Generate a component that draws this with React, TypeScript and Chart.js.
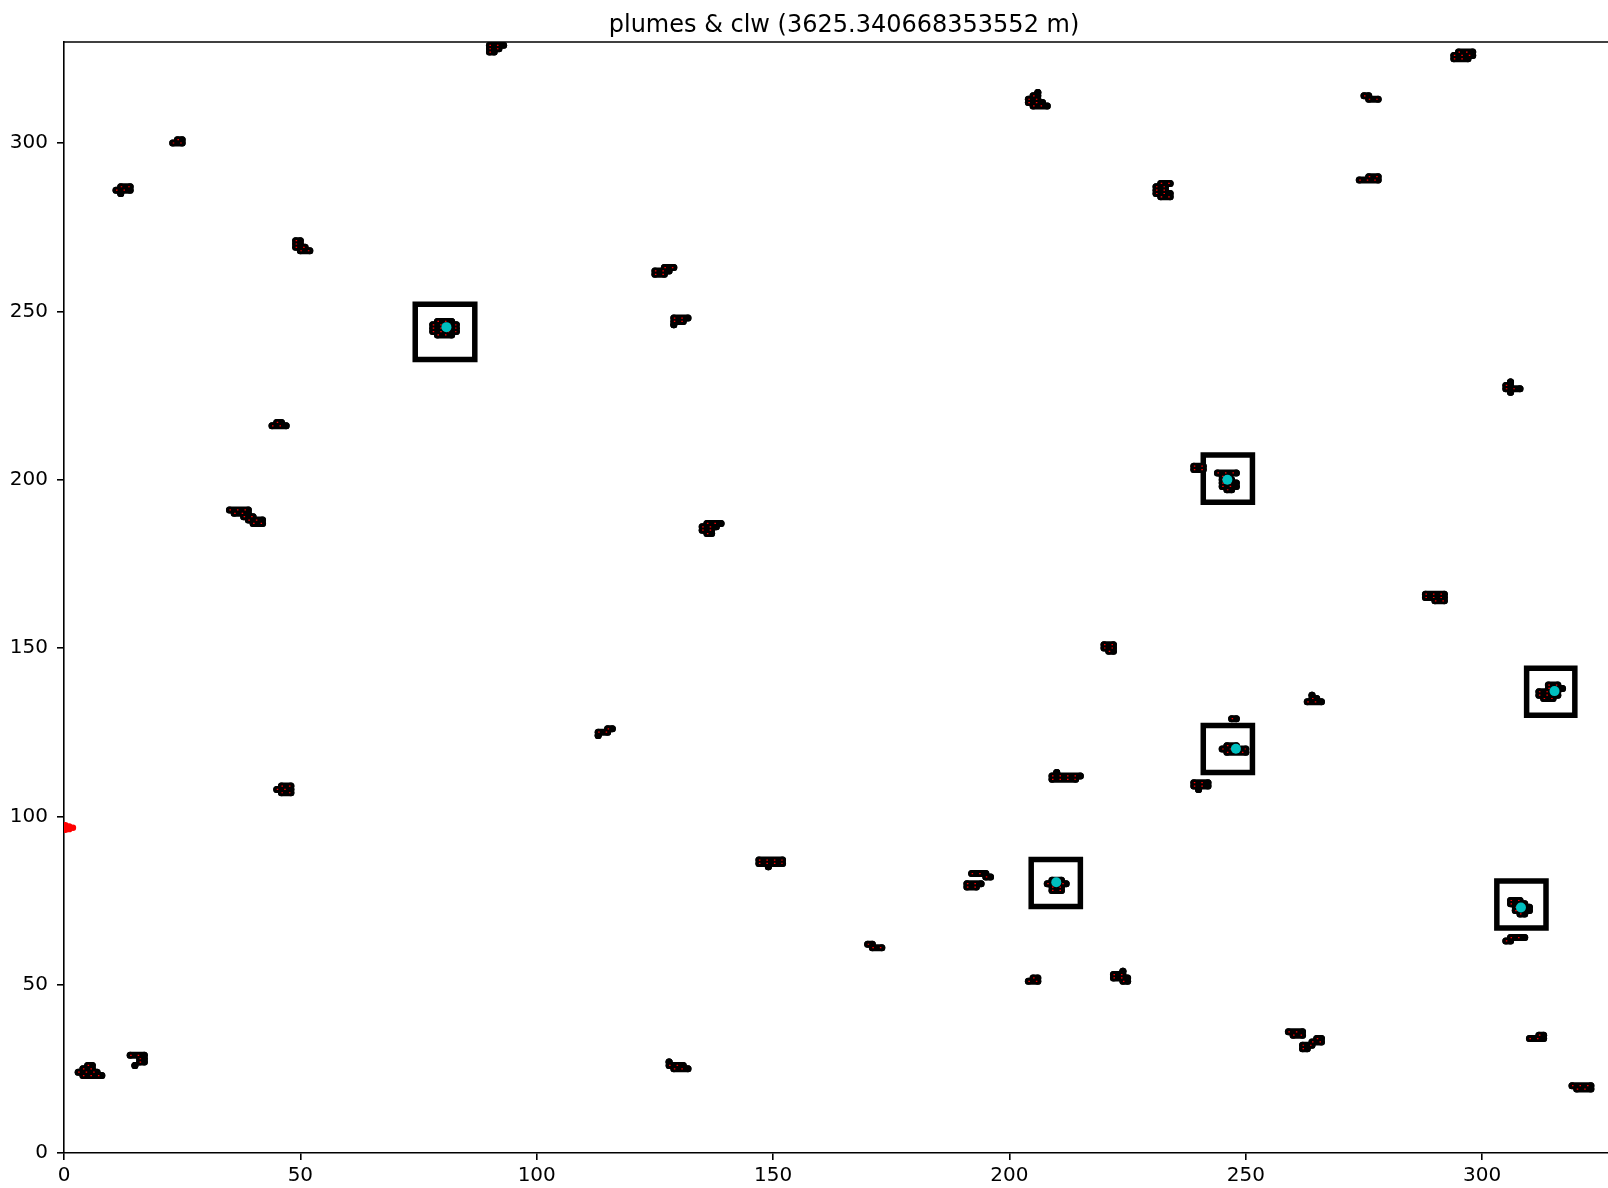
import React, { useEffect, useRef } from "react";
import { Chart, registerables } from "chart.js";

Chart.register(...registerables);

const TITLE = "plumes & clw (3625.340668353552 m)";
const xTicks = [0, 50, 100, 150, 200, 250, 300];
const yTicks = [0, 50, 100, 150, 200, 250, 300];
const X_MAX = 330;
const Y_MAX = 330;

// plume cells, one entry per horizontal run: [y, xStart, xEnd]
const plumeRows: [number, number, number][] = [
  [327, 90, 91], [328, 90, 92], [329, 90, 93],
  [300, 23, 25], [301, 24, 25],
  [287, 12, 14], [286, 11, 14], [285, 12, 12],
  [271, 49, 50], [270, 49, 50], [269, 49, 51], [268, 50, 52],
  [247, 79, 82], [246, 78, 83], [245, 78, 83], [244, 78, 83], [243, 79, 82],
  [263, 127, 129], [262, 125, 128], [261, 125, 127],
  [248, 129, 132], [247, 129, 131], [246, 129, 129],
  [217, 45, 46], [216, 44, 47],
  [191, 35, 39], [190, 36, 39], [189, 38, 40], [188, 39, 42], [187, 40, 42],
  [187, 136, 139], [186, 135, 138], [185, 135, 137], [184, 136, 137],
  [109, 46, 48], [108, 45, 48], [107, 46, 48],
  [126, 115, 116], [125, 113, 115], [124, 113, 113],
  [87, 147, 152], [86, 147, 152], [85, 149, 149],
  [62, 170, 171], [61, 171, 173],
  [26, 5, 6], [25, 4, 6], [24, 3, 7], [23, 4, 8],
  [29, 14, 17], [28, 16, 17], [27, 16, 17], [26, 15, 15],
  [27, 128, 128], [26, 128, 131], [25, 129, 132],
  [315, 206, 206], [314, 205, 206], [313, 204, 206], [312, 204, 207], [311, 205, 208],
  [288, 232, 234], [287, 231, 233], [286, 231, 233], [285, 231, 234], [284, 232, 234],
  [314, 275, 276], [313, 276, 278],
  [290, 276, 278], [289, 274, 278],
  [327, 295, 298], [326, 294, 298], [325, 294, 297],
  [229, 306, 306], [228, 305, 306], [227, 305, 308], [226, 306, 306],
  [202, 244, 248], [201, 245, 246], [200, 245, 247], [199, 245, 248], [198, 245, 248], [197, 246, 247],
  [204, 239, 241], [203, 239, 241],
  [166, 288, 292], [165, 288, 292], [164, 290, 292],
  [151, 220, 222], [150, 220, 222], [149, 221, 222],
  [139, 314, 316], [138, 314, 317], [137, 312, 316], [136, 312, 316], [135, 313, 315],
  [136, 264, 264], [135, 264, 265], [134, 263, 266],
  [121, 246, 248], [120, 245, 250], [119, 246, 250],
  [129, 247, 248],
  [113, 210, 210], [112, 209, 215], [111, 209, 214],
  [110, 239, 242], [109, 239, 242], [108, 240, 240],
  [83, 192, 195], [82, 195, 196], [80, 191, 194], [79, 191, 193],
  [81, 209, 211], [80, 208, 212], [79, 209, 211], [78, 209, 211],
  [75, 306, 308], [74, 306, 309], [73, 307, 310], [72, 307, 310], [71, 308, 309],
  [64, 306, 309], [63, 305, 306],
  [52, 205, 206], [51, 204, 206],
  [54, 224, 224], [53, 222, 224], [52, 222, 225], [51, 224, 225],
  [36, 259, 262], [35, 260, 262],
  [34, 265, 266], [33, 264, 266], [32, 262, 264], [31, 262, 263],
  [35, 312, 313], [34, 310, 313],
  [20, 319, 323], [19, 320, 323],
];

// tracked plume centres (cyan)
const plumeCenters: [number, number][] = [
  [80.9, 245.3],
  [246.1, 200.0],
  [315.3, 137.2],
  [247.9, 120.1],
  [209.9, 80.4],
  [308.2, 72.9],
];

// selection boxes: [centerX, centerY, halfWidth, halfHeight]
const boxes: [number, number, number, number][] = [
  [80.6, 243.9, 6.3, 8.2],
  [246.2, 200.3, 5.2, 7.0],
  [314.5, 137.0, 5.1, 6.95],
  [246.2, 120.0, 5.2, 7.0],
  [209.8, 80.2, 5.2, 6.95],
  [308.3, 73.8, 5.2, 7.0],
];

// red cloud-water patch at the left edge
const redPatch: [number, number][] = [
  [0.3, 97.4], [0.3, 96.0], [1.1, 97.0], [1.1, 96.2], [1.9, 96.6],
];

const CANVAS_W = 1640;
const CANVAS_H = 1188;
const AREA_LEFT = 64;
const AREA_RIGHT = 1624;
const AREA_TOP = 42;
const AREA_BOTTOM = 1153;

export default function App() {
  const ref = useRef<HTMLCanvasElement | null>(null);

  useEffect(() => {
    const canvas = ref.current;
    if (!canvas) return;

    const rowData: any[] = [];
    for (const [y, x1, x2] of plumeRows) {
      rowData.push({ x: x1, y }, { x: x2, y }, { x: x2, y: null });
    }
    const boxData: any[] = [];
    for (const [cx, cy, hw, hh] of boxes) {
      boxData.push(
        { x: cx - hw, y: cy - hh },
        { x: cx + hw, y: cy - hh },
        { x: cx + hw, y: cy + hh },
        { x: cx - hw, y: cy + hh },
        { x: cx - hw, y: cy - hh },
        { x: cx - hw, y: null }
      );
    }

    const framePlugin = {
      id: "frame",
      afterDraw(chart: any) {
        const { ctx, chartArea } = chart;
        ctx.save();
        ctx.strokeStyle = "#000";
        ctx.lineWidth = 1.6;
        ctx.beginPath();
        ctx.moveTo(chartArea.left - 0.8, chartArea.top);
        ctx.lineTo(chartArea.right, chartArea.top);
        ctx.stroke();
        ctx.fillStyle = "#000";
        ctx.font = '24px "DejaVu Sans"';
        ctx.textAlign = "center";
        ctx.textBaseline = "alphabetic";
        ctx.fillText(TITLE, (chartArea.left + chartArea.right) / 2, chartArea.top - 10);
        ctx.restore();
      },
    };

    const tickFont = { family: "DejaVu Sans", size: 20 };

    const chart = new Chart(canvas, {
      type: "scatter",
      data: {
        datasets: [
          {
            label: "centres",
            data: plumeCenters.map(([x, y]) => ({ x, y })),
            backgroundColor: "#00BFBF",
            borderWidth: 0,
            pointRadius: 5,
            pointBorderWidth: 0,
            order: 0,
            clip: 0,
          },
          {
            label: "clw",
            data: rowData,
            showLine: true,
            borderColor: "#ff0000",
            borderWidth: 1.2,
            borderDash: [1.5, 6],
            pointRadius: 0,
            spanGaps: false,
            order: 1,
            clip: 0,
          },
          {
            label: "clw patch",
            data: redPatch.map(([x, y]) => ({ x, y })),
            backgroundColor: "#ff0000",
            pointRadius: 3.2,
            pointBorderWidth: 0,
            order: 1,
            clip: 0,
          },
          {
            label: "plumes",
            data: rowData,
            showLine: true,
            borderColor: "#000",
            borderWidth: 7,
            borderCapStyle: "round",
            backgroundColor: "#000",
            pointBackgroundColor: "#000",
            pointBorderWidth: 0,
            pointRadius: 3.5,
            spanGaps: false,
            order: 2,
            clip: 0,
          },
          {
            label: "boxes",
            data: boxData,
            showLine: true,
            borderColor: "#000",
            borderWidth: 5.5,
            borderCapStyle: "square",
            borderJoinStyle: "miter",
            pointRadius: 0,
            spanGaps: false,
            order: 3,
            clip: 0,
          },
        ] as any,
      },
      options: {
        animation: false,
        responsive: false,
        devicePixelRatio: 1,
        layout: {
          padding: { top: AREA_TOP, left: 0, right: CANVAS_W - AREA_RIGHT, bottom: 0 },
        },
        plugins: {
          legend: { display: false },
          tooltip: { enabled: false },
          title: { display: false },
        },
        scales: {
          x: {
            type: "linear",
            position: "bottom",
            min: 0,
            max: X_MAX,
            afterBuildTicks: (s: any) => {
              s.ticks = xTicks.map((v) => ({ value: v }));
            },
            afterFit: (s: any) => {
              s.height = CANVAS_H - AREA_BOTTOM;
            },
            grid: {
              display: true,
              drawOnChartArea: false,
              drawTicks: true,
              tickLength: 7,
              color: "#000",
              lineWidth: 1.6,
            },
            border: { display: true, color: "#000", width: 1.6 },
            ticks: {
              font: tickFont,
              color: "#000",
              padding: 4,
              maxRotation: 0,
              autoSkip: false,
              callback: (v: any) => String(v),
            },
          },
          y: {
            type: "linear",
            position: "left",
            min: 0,
            max: Y_MAX,
            afterBuildTicks: (s: any) => {
              s.ticks = yTicks.map((v) => ({ value: v }));
            },
            afterFit: (s: any) => {
              s.width = AREA_LEFT;
            },
            grid: {
              display: true,
              drawOnChartArea: false,
              drawTicks: true,
              tickLength: 7,
              color: "#000",
              lineWidth: 1.6,
            },
            border: { display: true, color: "#000", width: 1.6 },
            ticks: {
              font: tickFont,
              color: "#000",
              padding: 9,
              autoSkip: false,
              callback: (v: any) => String(v),
            },
          },
        },
      } as any,
      plugins: [framePlugin],
    });

    return () => chart.destroy();
  }, []);

  return (
    <div
      style={{
        position: "fixed",
        left: 0,
        top: 0,
        width: 1608,
        height: 1188,
        overflow: "hidden",
        background: "#fff",
      }}
    >
      <canvas ref={ref} width={CANVAS_W} height={CANVAS_H} style={{ display: "block" }} />
    </div>
  );
}
